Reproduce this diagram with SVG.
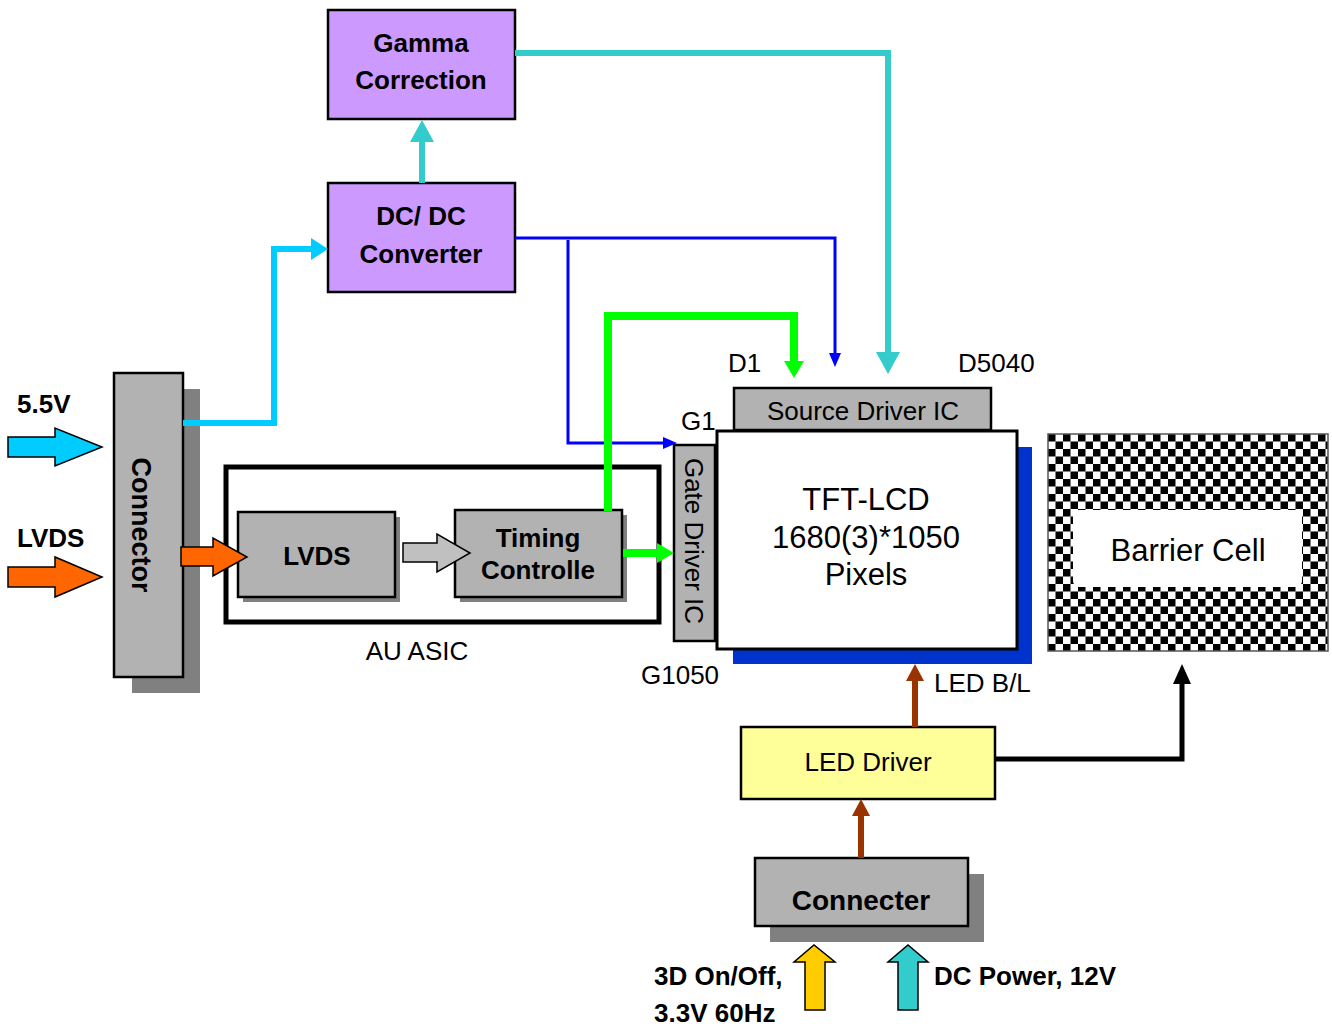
<svg xmlns="http://www.w3.org/2000/svg" width="1332" height="1027" viewBox="0 0 1332 1027">
<style>
text{font-family:"Liberation Sans",Arial,sans-serif;fill:#000}
.b{font-weight:bold;font-size:26px}
.n{font-size:26px}
.big{font-size:31px}
.mid{text-anchor:middle}
.box{stroke:#000;stroke-width:2.5}
.purple{fill:#CC99FF}
.gray{fill:#B2B2B2}
.shadow{fill:#808080}
.conn{fill:none;stroke-linejoin:miter}
.blk{stroke:#000;stroke-width:1.5}
</style>
<defs>
<pattern id="chk" x="1048" y="434" width="15" height="15" patternUnits="userSpaceOnUse">
<rect width="15" height="15" fill="#fff"/>
<rect width="7.5" height="7.5" fill="#000"/>
<rect x="7.5" y="7.5" width="7.5" height="7.5" fill="#000"/>
</pattern>
<marker id="mCyan" markerUnits="userSpaceOnUse" markerWidth="17" markerHeight="22" viewBox="0 0 17 22" refX="0" refY="11" orient="auto"><path d="M0,0 L17,11 L0,22 z" fill="#00CCFF"/></marker>
<marker id="mTeal" markerUnits="userSpaceOnUse" markerWidth="22" markerHeight="24" viewBox="0 0 22 24" refX="0" refY="12" orient="auto"><path d="M0,0 L22,12 L0,24 z" fill="#33CCCC"/></marker>
<marker id="mBlue" markerUnits="userSpaceOnUse" markerWidth="14" markerHeight="12" viewBox="0 0 14 12" refX="0" refY="6" orient="auto"><path d="M0,0 L14,6 L0,12 z" fill="#0000FF"/></marker>
<marker id="mGreen" markerUnits="userSpaceOnUse" markerWidth="17" markerHeight="20" viewBox="0 0 17 20" refX="0" refY="10" orient="auto"><path d="M0,0 L17,10 L0,20 z" fill="#00FF00"/></marker>
<marker id="mBrown" markerUnits="userSpaceOnUse" markerWidth="17" markerHeight="18" viewBox="0 0 17 18" refX="0" refY="9" orient="auto"><path d="M0,0 L17,9 L0,18 z" fill="#993300"/></marker>
<marker id="mBlack" markerUnits="userSpaceOnUse" markerWidth="20" markerHeight="18" viewBox="0 0 20 18" refX="0" refY="9" orient="auto"><path d="M0,0 L20,9 L0,18 z" fill="#000"/></marker>
</defs>
<rect width="1332" height="1027" fill="#fff"/>

<g id="input-5v5">
<polygon class="blk" points="8,437 55,437 55,428 102,447 55,466 55,457 8,457" fill="#00CCFF"/>
<text class="b" x="17" y="413">5.5V</text>
</g>
<g id="input-lvds">
<polygon class="blk" points="8,567 55,567 55,557 102,577 55,597 55,587 8,587" fill="#FF6600"/>
<text class="b" x="17" y="547">LVDS</text>
</g>

<g id="gamma">
<rect class="box purple" x="328" y="10" width="187" height="109"/>
<text class="b mid" x="421" y="52">Gamma</text>
<text class="b mid" x="421" y="89">Correction</text>
</g>
<g id="dcdc">
<rect class="box purple" x="328" y="183" width="187" height="109"/>
<text class="b mid" x="421" y="225">DC/ DC</text>
<text class="b mid" x="421" y="263">Converter</text>
</g>

<g id="connector">
<rect class="shadow" x="132" y="389" width="68" height="304"/>
<rect class="box gray" x="114" y="373" width="69" height="304"/>
<text class="b mid" transform="translate(141,525) rotate(90)" x="0" y="9" style="font-size:27px">Connector</text>
</g>

<g id="au-asic">
<rect x="226" y="467" width="433" height="155" fill="none" stroke="#000" stroke-width="5"/>
<text class="n mid" x="417" y="660">AU ASIC</text>
</g>
<g id="lvds">
<rect class="shadow" x="243" y="517" width="157" height="85"/>
<rect class="box gray" x="238" y="512" width="157" height="85"/>
<text class="b mid" x="317" y="565">LVDS</text>
</g>
<g id="timing">
<rect class="shadow" x="460" y="515" width="167" height="87"/>
<rect class="box gray" x="455" y="510" width="167" height="87"/>
<text class="b mid" x="538" y="547">Timing</text>
<text class="b mid" x="538" y="579">Controlle</text>
</g>

<g id="gate-driver">
<rect class="box gray" x="674" y="445" width="41" height="196"/>
<text class="n mid" transform="translate(694,541) rotate(90)" x="0" y="9">Gate Driver IC</text>
<text class="n" x="681" y="430">G1</text>
<text class="n" x="641" y="684">G1050</text>
</g>
<g id="source-driver">
<rect class="box gray" x="734" y="388" width="257" height="42"/>
<text class="n mid" x="863" y="420">Source Driver IC</text>
<text class="n" x="728" y="372">D1</text>
<text class="n" x="958" y="372">D5040</text>
</g>
<g id="tft-lcd">
<rect x="733" y="447" width="299" height="217" fill="#0033CC"/>
<rect x="717" y="431" width="300" height="218" fill="#fff" stroke="#000" stroke-width="3"/>
<text class="big mid" x="866" y="510">TFT-LCD</text>
<text class="big mid" x="866" y="548">1680(3)*1050</text>
<text class="big mid" x="866" y="585">Pixels</text>
<text class="n" x="934" y="692">LED B/L</text>
</g>

<g id="barrier-cell">
<rect x="1048" y="434" width="280" height="217" fill="url(#chk)" stroke="#555" stroke-width="1.5"/>
<rect x="1073" y="510" width="229" height="77" rx="6" fill="#fff"/>
<text class="big mid" x="1188" y="561">Barrier Cell</text>
</g>

<g id="led-driver">
<rect class="box" x="741" y="727" width="254" height="72" fill="#FFFF99"/>
<text class="n mid" x="868" y="771">LED Driver</text>
</g>

<g id="connecter">
<rect class="shadow" x="770" y="874" width="214" height="68"/>
<rect class="box gray" x="755" y="858" width="213" height="68"/>
<text class="b mid" x="861" y="910" style="font-size:28px">Connecter</text>
</g>

<g id="input-3d">
<polygon class="blk" points="805,1010 805,962 794,962 814,945 835,962 825,962 825,1010" fill="#FFCC00"/>
<text class="b" x="654" y="985">3D On/Off,</text>
<text class="b" x="654" y="1022">3.3V 60Hz</text>
</g>
<g id="input-dc">
<polygon class="blk" points="898,1010 898,962 888,962 908,945 928,962 918,962 918,1010" fill="#33CCCC"/>
<text class="b" x="934" y="985">DC Power, 12V</text>
</g>

<g id="connectors">
<path class="conn" d="M422,183 L422,142" stroke="#33CCCC" stroke-width="6" marker-end="url(#mTeal)"/>
<path class="conn" d="M515,53 L888,53 L888,352" stroke="#33CCCC" stroke-width="6" marker-end="url(#mTeal)"/>
<path class="conn" d="M515,238 L835,238 L835,353" stroke="#0000FF" stroke-width="3" marker-end="url(#mBlue)"/>
<path class="conn" d="M568,240 L568,443 L663,443" stroke="#0000FF" stroke-width="3" marker-end="url(#mBlue)"/>
<path class="conn" d="M608,511 L608,316 L794,316 L794,361" stroke="#00FF00" stroke-width="8" marker-end="url(#mGreen)"/>
<path class="conn" d="M623,553 L657,553" stroke="#00FF00" stroke-width="8" marker-end="url(#mGreen)"/>
<path class="conn" d="M183,423 L274,423 L274,249 L311,249" stroke="#00CCFF" stroke-width="6" marker-end="url(#mCyan)"/>
<path class="conn" d="M915,727 L915,681" stroke="#993300" stroke-width="6" marker-end="url(#mBrown)"/>
<path class="conn" d="M861,858 L861,816" stroke="#993300" stroke-width="6" marker-end="url(#mBrown)"/>
<path class="conn" d="M995,759 L1182,759 L1182,684" stroke="#000" stroke-width="5" marker-end="url(#mBlack)"/>
<polygon class="blk" points="181,547 213,547 213,538 247,557 213,576 213,566 181,566" fill="#FF6600" stroke-width="2"/>
<polygon class="blk" points="403,543 437,543 437,534 470,553 437,572 437,562 403,562" fill="#C0C0C0" stroke-width="2"/>
</g>
</svg>
